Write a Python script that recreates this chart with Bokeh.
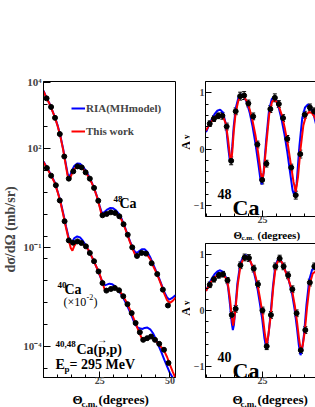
import math
from bokeh.plotting import figure
from bokeh.models import (Label, Range1d, FixedTicker, CustomJSTickFormatter, LinearAxis,
                          Legend, LegendItem, Whisker, ColumnDataSource, TeeHead)
from bokeh.layouts import row, column
from bokeh.embed import file_html
from bokeh.resources import INLINE

FONT = "Liberation Serif"
BLUE = "#0000ff"
RED = "#ff0000"

# ---------------- Left panel: cross sections (log10 of plotted mb/sr) ----------------
ca48_cs_deg = [6.1, 7.7, 9.1, 10.8, 12.4, 14.0, 15.6, 17.1, 18.6, 20.0, 21.5, 23.0, 24.5,
               26.0, 27.5, 29.0, 30.5, 32.0, 33.5, 35.0, 36.6, 38.3, 39.9, 41.5, 43.5,
               45.5, 47.5, 49.3]
ca48_cs_log = [3.51, 3.25, 2.92, 2.43, 1.75, 1.08, 1.30, 1.45, 1.42, 1.27, 1.08, 0.80, 0.41,
               -0.03, 0.01, 0.06, 0.04, -0.06, -0.30, -0.62, -1.00, -1.26, -1.17, -1.19, -1.48,
               -1.81, -2.28, -2.76]
ca48_red_deg = [5.0, 6.0, 7.0, 8.0, 9.0, 10.0, 11.0, 12.0, 13.0, 13.6, 14.1, 14.6, 15.3, 16.0,
                17.0, 18.0, 19.0, 20.0, 21.0, 22.0, 23.0, 24.0, 25.0, 25.6, 26.1, 26.8, 27.8,
                28.8, 29.8, 30.8, 31.8, 32.8, 33.8, 34.8, 35.8, 36.8, 37.6, 38.3, 39.0, 40.0,
                41.0, 42.0, 43.0, 44.0, 45.0, 46.0, 47.0, 48.0, 49.0, 50.0, 51.0, 52.0]
ca48_red_log = [3.73, 3.53, 3.37, 3.16, 2.95, 2.68, 2.36, 1.95, 1.45, 1.16, 1.06, 1.12, 1.27, 1.37,
                1.45, 1.45, 1.38, 1.27, 1.14, 0.98, 0.79, 0.54, 0.22, 0.02, -0.05, -0.02, 0.03,
                0.06, 0.06, 0.02, -0.05, -0.17, -0.37, -0.60, -0.84, -1.06, -1.22, -1.28, -1.23, -1.17,
                -1.16, -1.24, -1.36, -1.56, -1.73, -1.93, -2.15, -2.40, -2.60, -2.68, -2.62, -2.52]
ca48_blue_deg = [5.0, 6.0, 7.0, 8.0, 9.0, 10.0, 11.0, 12.0, 13.0, 13.6, 14.1, 14.6, 15.3, 16.0,
                 17.0, 18.0, 19.0, 20.0, 21.0, 22.0, 23.0, 24.0, 25.0, 25.6, 26.1, 26.8, 27.8,
                 28.8, 29.8, 30.8, 31.8, 32.8, 33.8, 34.8, 35.8, 36.8, 37.6, 38.3, 39.0, 40.0,
                 41.0, 42.0, 43.0, 44.0, 45.0, 46.0, 47.0, 48.0, 49.0, 49.8, 51.0, 52.0]
ca48_blue_log = [3.74, 3.54, 3.38, 3.17, 2.96, 2.70, 2.38, 1.98, 1.50, 1.22, 1.14, 1.20, 1.36, 1.47,
                 1.54, 1.53, 1.45, 1.33, 1.18, 1.00, 0.80, 0.55, 0.25, 0.08, 0.03, 0.08, 0.15,
                 0.19, 0.18, 0.12, 0.02, -0.13, -0.34, -0.58, -0.82, -1.02, -1.14, -1.17, -1.12, -1.06,
                 -1.06, -1.14, -1.30, -1.50, -1.70, -1.90, -2.12, -2.35, -2.52, -2.58, -2.52, -2.45]

ca40_cs_deg = [6.2, 7.7, 9.4, 10.8, 12.5, 14.0, 15.5, 17.1, 18.5, 20.1, 21.5, 23.0, 24.6, 26.0,
               27.4, 29.0, 30.4, 31.9, 33.4, 34.9, 36.4, 37.8, 39.3, 40.5, 41.9, 43.3, 44.7,
               46.2, 47.9, 49.5]
ca40_cs_log = [1.40, 1.17, 0.88, 0.42, -0.21, -0.79, -0.86, -0.82, -0.87, -0.97, -1.17, -1.42,
               -1.73, -2.08, -2.31, -2.26, -2.23, -2.30, -2.48, -2.72, -2.99, -3.29, -3.57, -3.80,
               -3.75, -3.70, -3.80, -3.92, -4.10, -4.50]
ca40_red_deg = [5.0, 6.0, 7.0, 8.0, 9.0, 10.0, 11.0, 12.0, 13.0, 14.0, 14.7, 15.3, 16.0, 17.0,
                18.0, 19.0, 20.0, 21.0, 22.0, 23.0, 24.0, 25.0, 26.0, 26.8, 27.5, 28.5, 29.5,
                30.5, 31.5, 32.5, 33.5, 34.5, 35.5, 36.5, 37.5, 38.5, 39.5, 40.3, 41.0, 42.0,
                43.0, 44.0, 45.0, 46.0, 47.0, 48.0, 49.0, 50.0, 51.0, 52.0]
ca40_red_log = [1.58, 1.43, 1.28, 1.12, 0.95, 0.68, 0.38, 0.00, -0.40, -0.78, -1.02, -1.10, -0.95,
                -0.83, -0.83, -0.89, -0.97, -1.08, -1.25, -1.43, -1.62, -1.82, -2.07, -2.28, -2.32,
                -2.26, -2.22, -2.23, -2.28, -2.37, -2.50, -2.65, -2.83, -3.02, -3.23, -3.45, -3.66,
                -3.81, -3.80, -3.74, -3.72, -3.76, -3.84, -3.93, -4.03, -4.14, -4.32, -4.55, -4.76, -4.96]
ca40_blue_deg = [5.0, 6.0, 7.0, 8.0, 9.0, 10.0, 11.0, 12.0, 13.0, 14.0, 14.7, 15.3, 16.0, 17.0,
                 18.0, 19.0, 20.0, 21.0, 22.0, 23.0, 24.0, 25.0, 26.0, 26.8, 27.5, 28.5, 29.5,
                 30.5, 31.5, 32.5, 33.5, 34.5, 35.5, 36.5, 37.5, 38.5, 39.5, 40.3, 41.0, 42.0,
                 43.0, 44.0, 45.0, 46.0, 47.0, 48.0, 49.0, 50.0, 51.0, 52.0]
ca40_blue_log = [1.60, 1.45, 1.30, 1.14, 0.97, 0.70, 0.41, 0.04, -0.36, -0.72, -0.82, -0.82, -0.72,
                 -0.67, -0.70, -0.80, -0.93, -1.08, -1.25, -1.43, -1.62, -1.84, -2.05, -2.15, -2.13,
                 -2.10, -2.12, -2.18, -2.28, -2.40, -2.55, -2.72, -2.90, -3.10, -3.32, -3.42, -3.46,
                 -3.47, -3.44, -3.43, -3.48, -3.60, -3.78, -3.98, -4.18, -4.40, -4.60, -4.80, -4.95, -5.10]

# ---------------- Right panels: analyzing power A_y ----------------
ay48_deg = [6.3, 7.8, 9.3, 10.8, 12.3, 13.9, 15.5, 17.1, 18.5, 20.0, 21.7, 23.2, 24.9, 26.4,
            27.8, 29.4, 30.8, 32.3, 33.8, 35.2, 36.8, 38.4, 40.0, 41.8, 43.3, 44.7, 45.9]
ay48_val = [0.45, 0.54, 0.59, 0.59, 0.40, -0.21, 0.67, 0.94, 0.95, 0.81, 0.58, 0.08, -0.55, -0.26,
            0.71, 0.91, 0.80, 0.55, 0.18, -0.33, -0.82, -0.09, 0.61, 0.74, 0.67, 0.55, 0.28]
ay48_err = [0.05, 0.05, 0.05, 0.06, 0.06, 0.07, 0.06, 0.07, 0.07, 0.06, 0.06, 0.06, 0.07, 0.06,
            0.06, 0.07, 0.06, 0.06, 0.06, 0.06, 0.07, 0.07, 0.06, 0.06, 0.06, 0.06, 0.06]
ay48_red_deg = [5.0, 6.0, 7.0, 8.0, 9.0, 10.0, 11.0, 12.0, 12.8, 13.5, 13.9, 14.3, 14.8, 15.5, 16.5,
                17.5, 18.5, 19.5, 20.5, 21.5, 22.5, 23.5, 24.4, 24.9, 25.5, 26.4, 27.4, 28.4, 29.2,
                30.0, 31.0, 32.0, 33.0, 34.0, 35.0, 36.0, 36.8, 37.6, 38.5, 39.5, 40.5, 41.5, 42.5,
                43.5, 44.5, 45.5, 46.5]
ay48_red_val = [0.33, 0.42, 0.50, 0.56, 0.60, 0.61, 0.58, 0.45, 0.17, -0.14, -0.21, -0.05, 0.30, 0.65,
                0.87, 0.95, 0.93, 0.84, 0.70, 0.50, 0.25, -0.08, -0.42, -0.56, -0.40, 0.10, 0.62,
                0.84, 0.88, 0.84, 0.73, 0.58, 0.35, 0.08, -0.25, -0.58, -0.76, -0.50, 0.00, 0.42,
                0.60, 0.66, 0.64, 0.57, 0.45, 0.28, 0.08]
ay48_blue_deg = [5.0, 6.0, 7.0, 8.0, 9.0, 10.0, 11.0, 12.0, 12.8, 13.4, 13.8, 14.3, 14.8, 15.5, 16.5,
                 17.5, 18.5, 19.5, 20.5, 21.5, 22.5, 23.5, 24.3, 24.8, 25.4, 26.3, 27.3, 28.3, 29.0,
                 29.8, 30.8, 31.8, 32.8, 33.8, 34.8, 35.7, 36.4, 37.1, 38.1, 39.1, 40.1, 41.1, 42.1,
                 43.1, 44.1, 45.1, 46.5]
ay48_blue_val = [0.30, 0.42, 0.53, 0.62, 0.68, 0.70, 0.65, 0.45, 0.05, -0.20, -0.22, 0.05, 0.40, 0.72,
                 0.92, 0.97, 0.93, 0.82, 0.64, 0.40, 0.10, -0.25, -0.55, -0.63, -0.42, 0.15, 0.68,
                 0.89, 0.92, 0.87, 0.73, 0.52, 0.26, -0.05, -0.42, -0.74, -0.84, -0.62, 0.05, 0.55,
                 0.74, 0.79, 0.74, 0.62, 0.42, 0.15, -0.30]

ay40_deg = [6.3, 7.8, 9.5, 11.0, 12.6, 14.1, 15.5, 17.2, 18.7, 20.2, 21.9, 23.4, 25.0, 26.5,
            28.0, 29.6, 31.1, 32.5, 34.1, 35.6, 37.1, 38.6, 40.2, 41.8, 43.4, 45.0]
ay40_val = [0.46, 0.56, 0.63, 0.65, 0.54, -0.08, 0.03, 0.81, 0.95, 0.94, 0.75, 0.47, 0.00, -0.64,
            -0.08, 0.79, 0.93, 0.79, 0.63, 0.38, -0.05, -0.71, -0.35, 0.50, 0.79, 0.79]
ay40_err = [0.05, 0.05, 0.05, 0.05, 0.05, 0.06, 0.06, 0.06, 0.06, 0.06, 0.06, 0.06, 0.06, 0.06,
            0.06, 0.06, 0.06, 0.06, 0.06, 0.06, 0.06, 0.06, 0.06, 0.06, 0.06, 0.06]
ay40_red_deg = [5.0, 6.0, 7.0, 8.0, 9.0, 10.0, 11.0, 12.0, 12.8, 13.5, 14.1, 14.6, 15.0, 15.5, 16.2,
                17.2, 18.2, 19.2, 20.2, 21.0, 21.9, 22.7, 23.4, 24.2, 25.0, 25.8, 26.5, 27.2, 28.0,
                28.8, 29.6, 30.4, 31.1, 31.8, 32.5, 33.3, 34.1, 34.9, 35.6, 36.5, 37.3, 38.0, 38.7,
                39.3, 40.0, 40.8, 41.8, 42.8, 43.8, 44.8, 46.0]
ay40_red_val = [0.35, 0.45, 0.53, 0.59, 0.63, 0.65, 0.64, 0.58, 0.45, 0.20, -0.10, -0.27, -0.15, 0.05,
                0.45, 0.80, 0.93, 0.97, 0.93, 0.85, 0.73, 0.58, 0.42, 0.20, -0.05, -0.40, -0.62, -0.40,
                -0.06, 0.40, 0.75, 0.88, 0.91, 0.87, 0.79, 0.68, 0.58, 0.45, 0.33, 0.08, -0.22, -0.52,
                -0.74, -0.62, -0.38, 0.05, 0.48, 0.66, 0.70, 0.67, 0.58]
ay40_blue_deg = [5.0, 6.0, 7.0, 8.0, 9.0, 10.0, 11.0, 12.0, 12.8, 13.5, 14.1, 14.5, 14.9, 15.4, 16.1,
                 17.1, 18.1, 19.1, 20.1, 20.9, 21.8, 22.6, 23.3, 24.1, 24.9, 25.7, 26.4, 27.1, 27.9,
                 28.7, 29.5, 30.3, 31.0, 31.7, 32.4, 33.2, 34.0, 34.8, 35.5, 36.4, 37.2, 37.9, 38.5,
                 39.1, 39.8, 40.6, 41.6, 42.6, 43.6, 44.6, 46.0]
ay40_blue_val = [0.35, 0.47, 0.57, 0.65, 0.70, 0.72, 0.69, 0.60, 0.42, 0.10, -0.22, -0.35, -0.25, 0.05,
                 0.48, 0.83, 0.96, 0.99, 0.95, 0.86, 0.72, 0.55, 0.37, 0.12, -0.15, -0.50, -0.68, -0.45,
                 -0.05, 0.42, 0.78, 0.90, 0.93, 0.88, 0.80, 0.70, 0.60, 0.45, 0.30, 0.02, -0.30, -0.62,
                 -0.80, -0.68, -0.40, 0.10, 0.55, 0.73, 0.78, 0.78, 0.72]

x_major = [25, 50]
x_minor = [5, 10, 15, 20, 30, 35, 40, 45, 55]
left_y_major_exp = [-4, -1, 2, 4]
ay_major = [-1, 0, 1]
ay_minor = [-1.2, -0.8, -0.6, -0.4, -0.2, 0.2, 0.4, 0.6, 0.8, 1.2]

# ---------------- geometry (absolute page pixels) ----------------
LX0, LY0, LW, LH = 41, 81, 132, 296
LXR = (5.0, 52.0)
LYR = (-4.94, 4.02)
LEFT_W = 174                 # width of the left column
STRIP_W = 14                 # strip holding the A_y titles
RX0, RW = 198, 117
RXR = (4.8, 4.8 + 117 / 2.82)
RYR = (-1.2, 1.2)
TY0, TH = 81, 135
BY0, BH = 243, 134
XB_L, XB_T, XB_B = 11, 11, 11   # bottom borders holding the tick labels


def log_mapper(X0, Y0, W, H, xr, lyr):
    def f(X, Y):
        return (xr[0] + (X - X0) / W * (xr[1] - xr[0]),
                10 ** (lyr[1] - (Y - Y0) / H * (lyr[1] - lyr[0])))
    return f


def lin_mapper(X0, Y0, W, H, xr, yr):
    def f(X, Y):
        return (xr[0] + (X - X0) / W * (xr[1] - xr[0]),
                yr[1] - (Y - Y0) / H * (yr[1] - yr[0]))
    return f


def strip_mapper(x0, y0):
    return lambda X, Y: (X - x0, Y - y0)


def put(p, m, X, Y, text, size, style="bold", align="left", baseline="alphabetic", angle=0.0):
    x, y = m(X, Y)
    p.add_layout(Label(x=x, y=y, text=text, text_font=FONT, text_font_size=f"{size}px",
                       text_font_style=style, text_align=align, text_baseline=baseline,
                       angle=angle, text_color="black"))


def style_axis(ax, tick_in=6, minor_in=3, size=11, standoff=1):
    ax.major_tick_in = tick_in
    ax.major_tick_out = 0
    ax.minor_tick_in = minor_in
    ax.minor_tick_out = 0
    ax.axis_line_color = "black"
    ax.major_tick_line_color = "black"
    ax.minor_tick_line_color = "black"
    ax.major_label_text_font = FONT
    ax.major_label_text_font_size = f"{size}px"
    ax.major_label_text_font_style = "bold"
    ax.major_label_standoff = standoff


def strip(w, h):
    s = figure(frame_width=w, frame_height=h, x_range=Range1d(0, w), y_range=Range1d(h, 0),
               x_axis_location=None, y_axis_location=None, title=None,
               output_backend="svg", toolbar_location=None, min_border=0)
    s.frame_align = False
    s.grid.visible = False
    s.outline_line_color = None
    s.background_fill_color = "white"
    s.border_fill_color = "white"
    return s


def pow10(a):
    return [10 ** v for v in a]


# ---------------- left figure ----------------
L_H = LY0 + LH + XB_L
pL = figure(frame_width=LW, frame_height=LH, x_range=Range1d(*LXR),
            y_range=Range1d(10 ** LYR[0], 10 ** LYR[1]), y_axis_type="log", title=None,
            output_backend="svg", toolbar_location=None,
            min_border_left=LX0, min_border_right=LEFT_W - LX0 - LW, min_border_top=LY0,
            min_border_bottom=XB_L)
pL.frame_align = False
pL.grid.visible = False
pL.outline_line_color = "black"
pL.background_fill_color = "white"
pL.border_fill_color = "white"
style_axis(pL.xaxis[0], 6, 3, size=10, standoff=-1)
pL.xaxis[0].ticker = FixedTicker(ticks=x_major, minor_ticks=x_minor)
style_axis(pL.yaxis[0], 7, 4, size=11, standoff=2)
pL.yaxis[0].ticker = FixedTicker(ticks=[10.0 ** e for e in left_y_major_exp],
                                 minor_ticks=[10 ** (2 + k * 2 / 3) for k in range(-11, 4)])
pL.yaxis[0].formatter = CustomJSTickFormatter(code="""
const sup = {"-": "\u207b", "0": "\u2070", "1": "\u00b9", "2": "\u00b2", "3": "\u00b3",
             "4": "\u2074", "5": "\u2075", "6": "\u2076", "7": "\u2077", "8": "\u2078", "9": "\u2079"};
const e = Math.round(Math.log10(tick));
return "10" + String(e).split("").map((c) => sup[c]).join("");
""")
pL.yaxis[0].axis_label = "dσ/dΩ (mb/sr)"
pL.yaxis[0].axis_label_text_font = FONT
pL.yaxis[0].axis_label_text_font_size = "14px"
pL.yaxis[0].axis_label_text_font_style = "bold"
pL.yaxis[0].axis_label_standoff = 2

rb48 = pL.line(ca48_blue_deg, pow10(ca48_blue_log), line_color=BLUE, line_width=2)
rr48 = pL.line(ca48_red_deg, pow10(ca48_red_log), line_color=RED, line_width=2)
pL.line(ca40_blue_deg, pow10(ca40_blue_log), line_color=BLUE, line_width=2)
pL.line(ca40_red_deg, pow10(ca40_red_log), line_color=RED, line_width=2)
pL.scatter(ca48_cs_deg, pow10(ca48_cs_log), size=5, color="black")
pL.scatter(ca40_cs_deg, pow10(ca40_cs_log), size=5, color="black")

leg = Legend(items=[LegendItem(label="RIA(MHmodel)", renderers=[rb48]),
                    LegendItem(label="This work", renderers=[rr48])],
             location=(28, 236), orientation="vertical", glyph_width=14, glyph_height=20,
             label_height=20, label_standoff=1, spacing=3, padding=0, margin=0,
             background_fill_alpha=0, border_line_alpha=0, label_text_font=FONT,
             label_text_font_size="11px", label_text_font_style="bold")
pL.add_layout(leg)

mL = log_mapper(LX0, LY0, LW, LH, LXR, LYR)
put(pL, mL, 111, 198, "48", 9)
put(pL, mL, 117, 203, "Ca", 14)
put(pL, mL, 55, 284, "40", 9)
put(pL, mL, 62, 289, "Ca", 14)
put(pL, mL, 61, 301, "(×10", 12, style="normal")
put(pL, mL, 84, 296, "-2", 8, style="normal")
put(pL, mL, 91, 301, ")", 12, style="normal")
put(pL, mL, 53, 343, "40,48", 9)
put(pL, mL, 74, 349, "Ca(p,p)", 14)
put(pL, mL, 99.7, 339, "→", 10, align="center")
put(pL, mL, 53, 364, "E", 14)
put(pL, mL, 62, 368, "p", 9)
put(pL, mL, 67, 364, "= 295 MeV", 14)

# strip under the left panel with the axis title
sLb = strip(LEFT_W, 407 - L_H)
mSL = strip_mapper(0, L_H)
put(sLb, mSL, 72, 399, "Θ", 13)
put(sLb, mSL, 81, 403, "c.m.", 9)
put(sLb, mSL, 98, 399, "(degrees)", 13)


# ---------------- right figures ----------------
R_FIG_X = LEFT_W + STRIP_W
RIGHT_W = 315 - LEFT_W


def right_fig(top, frame_h, bottom):
    p = figure(frame_width=RW, frame_height=frame_h, x_range=Range1d(*RXR),
               y_range=Range1d(*RYR), title=None, output_backend="svg",
               toolbar_location=None, min_border_left=RX0 - R_FIG_X, min_border_right=0,
               min_border_top=top, min_border_bottom=bottom)
    p.frame_align = False
    p.grid.visible = False
    p.outline_line_color = None
    p.background_fill_color = "white"
    p.border_fill_color = "white"
    style_axis(p.xaxis[0], 6, 3, size=10, standoff=-1)
    p.xaxis[0].ticker = FixedTicker(ticks=x_major, minor_ticks=x_minor)
    style_axis(p.yaxis[0], 6, 3, size=10, standoff=1)
    p.yaxis[0].ticker = FixedTicker(ticks=ay_major, minor_ticks=ay_minor)
    top_ax = LinearAxis(ticker=FixedTicker(ticks=[]), major_tick_in=0, major_tick_out=0,
                        minor_tick_in=0, minor_tick_out=0, major_label_standoff=0,
                        major_label_text_font_size="0px", axis_line_color="black")
    p.add_layout(top_ax, "above")
    return p


def draw_ay(p, bd, bv, rd, rv, d, v, e):
    p.line(bd, bv, line_color=BLUE, line_width=2)
    p.line(rd, rv, line_color=RED, line_width=2)
    src = ColumnDataSource(dict(x=d, y=v, lo=[a - b for a, b in zip(v, e)],
                                hi=[a + b for a, b in zip(v, e)]))
    p.add_layout(Whisker(source=src, base="x", upper="hi", lower="lo", line_color="black",
                         line_width=1,
                         upper_head=TeeHead(size=4, line_color="black", line_width=1),
                         lower_head=TeeHead(size=4, line_color="black", line_width=1)))
    p.scatter("x", "y", source=src, size=5, color="black")


T_H = TY0 + TH + XB_T                    # top-right block: 0 .. 227
pT = right_fig(TY0, TH, XB_T)
draw_ay(pT, ay48_blue_deg, ay48_blue_val, ay48_red_deg, ay48_red_val, ay48_deg, ay48_val, ay48_err)
mT = lin_mapper(RX0, TY0, RW, TH, RXR, RYR)
put(pT, mT, 210, 193, "48", 14)
put(pT, mT, 225, 207, "Ca", 22)

sTa = strip(STRIP_W, T_H)
mSTa = strip_mapper(LEFT_W, 0)
put(sTa, mSTa, 183, 145, "A", 12, align="center", angle=math.pi / 2)
put(sTa, mSTa, 183.5, 138.5, "y", 9, align="left", angle=math.pi / 2)

B_top = BY0 - 1                          # bottom-right block starts here
sTb_h = B_top - T_H
sTb = strip(RIGHT_W, sTb_h)
mSTb = strip_mapper(LEFT_W, T_H)
mid_T = T_H + sTb_h / 2
put(sTb, mSTb, 231, mid_T, "Θ", 11, baseline="middle")
put(sTb, mSTb, 239, mid_T + 2.5, "c.m.", 7, baseline="middle")
put(sTb, mSTb, 255, mid_T, "(degrees)", 11, baseline="middle")

B_H = 1 + BH + XB_B
pB = right_fig(1, BH, XB_B)
draw_ay(pB, ay40_blue_deg, ay40_blue_val, ay40_red_deg, ay40_red_val, ay40_deg, ay40_val, ay40_err)
mB = lin_mapper(RX0, BY0, RW, BH, RXR, RYR)
put(pB, mB, 210, 356, "40", 14)
put(pB, mB, 225, 370, "Ca", 22)

sBa = strip(STRIP_W, B_H)
mSBa = strip_mapper(LEFT_W, B_top)
put(sBa, mSBa, 183, 311, "A", 12, align="center", angle=math.pi / 2)
put(sBa, mSBa, 183.5, 304.5, "y", 9, align="left", angle=math.pi / 2)

sBb_y0 = B_top + B_H
sBb = strip(RIGHT_W, 407 - sBb_y0)
mSBb = strip_mapper(LEFT_W, sBb_y0)
put(sBb, mSBb, 230, 399, "Θ", 13)
put(sBb, mSBb, 238, 403, "c.m.", 9)
put(sBb, mSBb, 255, 399, "(degrees)", 13)

layout = row(column(pL, sLb),
             column(row(sTa, pT), sTb, row(sBa, pB), sBb))
open("out.html", "w").write(file_html(layout, INLINE))
